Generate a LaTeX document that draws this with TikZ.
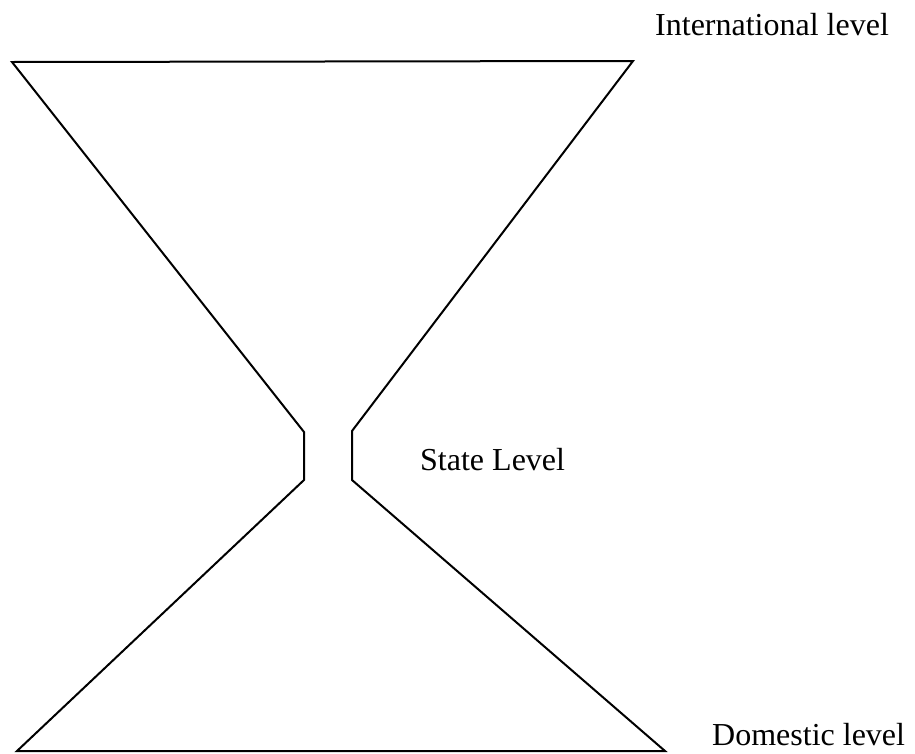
\documentclass[tikz,border=0pt]{standalone}
\usepackage{fontspec}
\setmainfont{Liberation Serif}
\tikzstyle{pixelGrid} = [x = 1pt, y = -1pt]
\tikzstyle{glassLine} = [color=black, line width=2pt, line join=miter]
\tikzstyle{levelText} = [font=\fontsize{32}{38}\selectfont, anchor=base west, inner sep=0pt]

\begin{document}
\begin{tikzpicture}[pixelGrid]
        \useasboundingbox (0,0) rectangle (915,753);
        % hourglass outline
        \coordinate (topLeft) at (12,62);
        \coordinate (topRight) at (633,61);
        \coordinate (neckRightTop) at (352,431);
        \coordinate (neckRightBottom) at (352,480);
        \coordinate (bottomRight) at (665,751);
        \coordinate (bottomLeft) at (17,751);
        \coordinate (neckLeftBottom) at (304,480);
        \coordinate (neckLeftTop) at (304,432);
        \draw [glassLine] (topLeft) -- (topRight) -- (neckRightTop) -- (neckRightBottom)
          -- (bottomRight) -- (bottomLeft) -- (neckLeftBottom) -- (neckLeftTop) -- cycle;

        % levels
        \node [levelText] (international) at (655,35) {International level};
        \node [levelText] (state) at (420,470) {State Level};
        \node [levelText] (domestic) at (712,745) {Domestic level};
      \end{tikzpicture}
\end{document}
